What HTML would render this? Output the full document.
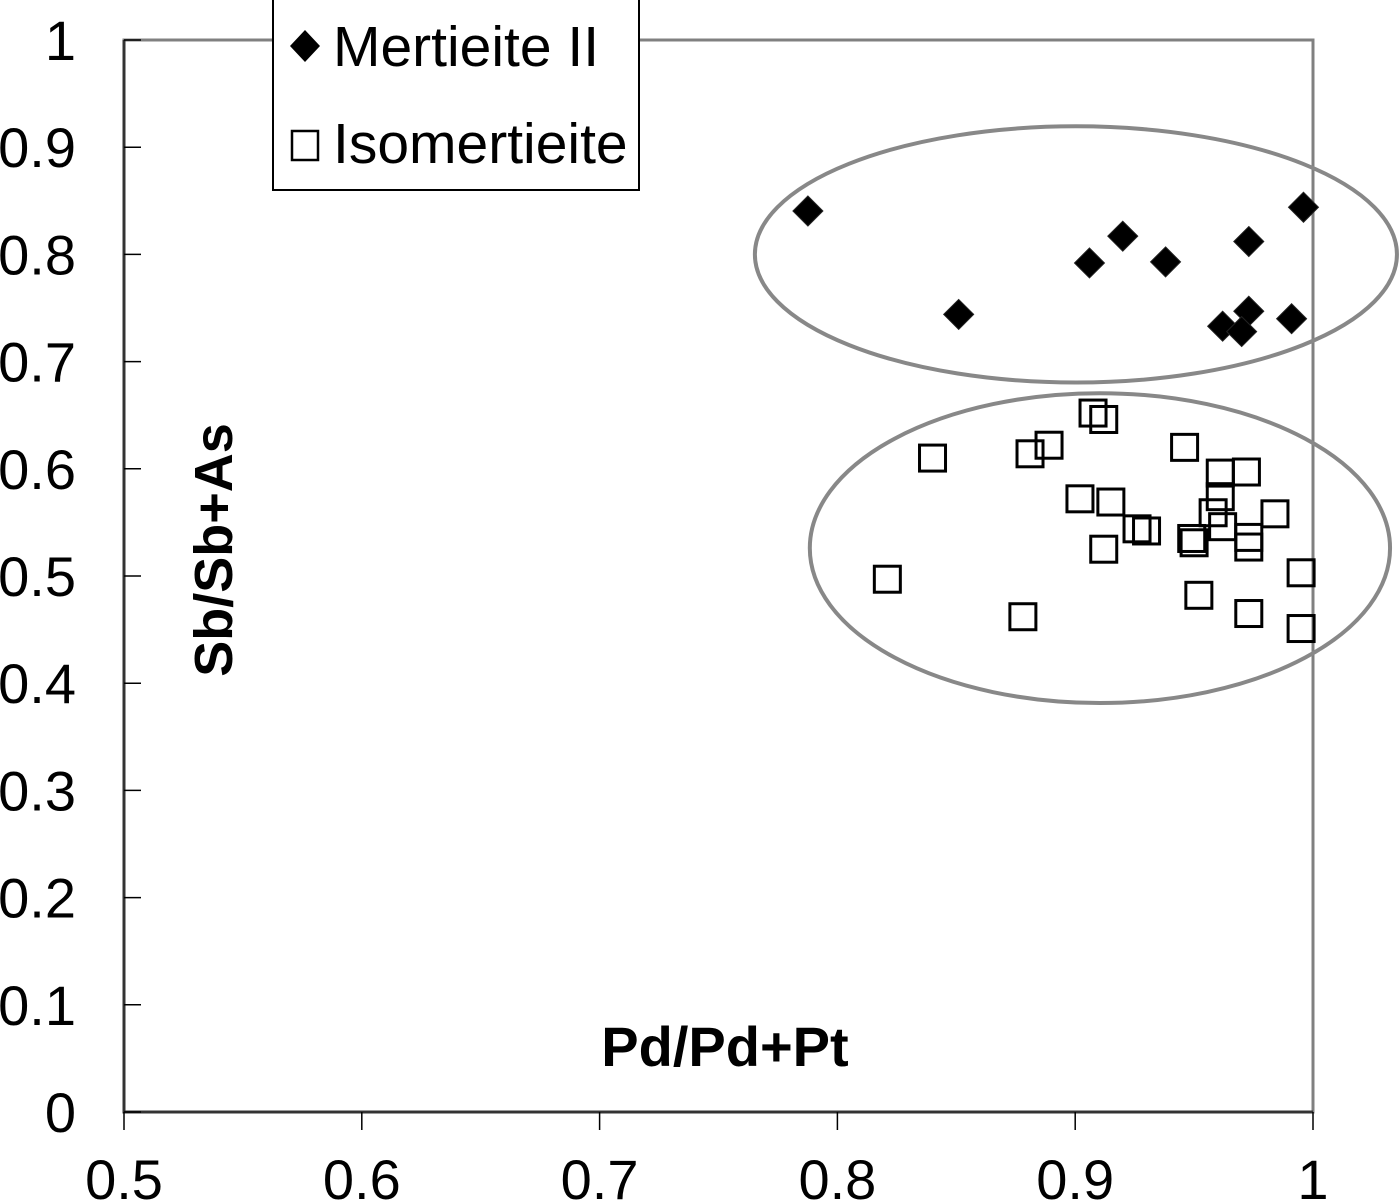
<!DOCTYPE html>
<html><head><meta charset="utf-8"><style>
html,body{margin:0;padding:0;background:#fff;width:1400px;height:1200px;overflow:hidden}
svg text{font-family:"Liberation Sans",Arial,sans-serif;fill:#000}
</style></head><body>
<svg id="chart" width="1400" height="1200" viewBox="0 0 1400 1200" xmlns="http://www.w3.org/2000/svg">
<g id="frame"></g>
<g id="ticks"></g>
<g id="ell"></g>
<g id="pts"></g>
<text x="0" y="0" transform="translate(232,550) rotate(-90)" text-anchor="middle" font-size="54" font-weight="bold">Sb/Sb+As</text>
<text x="725" y="1066" text-anchor="middle" font-size="56" font-weight="bold">Pd/Pd+Pt</text>
<g>
<rect x="273" y="-2" width="366" height="192" fill="#fff" stroke="#000" stroke-width="2"/>
<g>
<polygon points="305,30 320,46 305,62 290,46" fill="#000"/>
<text x="333" y="66" font-size="57">Mertieite II</text>
</g>
<g>
<rect x="292" y="131" width="26" height="29" fill="#fff" stroke="#000" stroke-width="2.5"/>
<text x="333" y="163" font-size="57">Isomertieite</text>
</g>
</g>
</svg>
<script>
const xTicks=[0.5,0.6,0.7,0.8,0.9,1];
const xTickLabels=["0.5","0.6","0.7","0.8","0.9","1"];
const yTicks=[0,0.1,0.2,0.3,0.4,0.5,0.6,0.7,0.8,0.9,1];
const yTickLabels=["0","0.1","0.2","0.3","0.4","0.5","0.6","0.7","0.8","0.9","1"];
const mertX=[0.7876,0.851,0.906,0.920,0.938,0.973,0.996,0.962,0.973,0.970,0.991];
const mertY=[0.8405,0.744,0.792,0.817,0.793,0.812,0.844,0.733,0.747,0.728,0.740];
const isoX=[0.9075,0.912,0.840,0.881,0.889,0.946,0.961,0.972,0.961,0.958,0.962,0.984,0.902,0.915,0.926,0.930,0.949,0.950,0.973,0.973,0.912,0.821,0.995,0.878,0.952,0.973,0.995];
const isoY=[0.652,0.646,0.610,0.614,0.622,0.620,0.596,0.597,0.574,0.559,0.546,0.558,0.572,0.569,0.544,0.542,0.535,0.531,0.536,0.527,0.525,0.497,0.503,0.462,0.482,0.465,0.451];
const ellCx=[0.9003,0.9104];
const ellCy=[0.800,0.526];
const ellRx=[0.135,0.122];
const ellRy=[0.1195,0.1445];

const X0=124,X1=1313,Y0=1112,Y1=40;
const sx=v=>X0+(v-0.5)/0.5*(X1-X0);
const sy=v=>Y0-v*(Y0-Y1);
const NS="http://www.w3.org/2000/svg";
function mk(tag,parent,attrs){const e=document.createElementNS(NS,tag);for(const k in attrs)e.setAttribute(k,attrs[k]);parent.appendChild(e);return e;}
const frame=document.getElementById('frame');
const fr=mk('rect',frame,{x:X0,y:Y1,width:X1-X0,height:Y0-Y1,fill:'none',stroke:'#808080','stroke-width':3});


const ax=mk('path',frame,{d:`M${X0},${Y1}V${Y0}H${X1}`,fill:'none',stroke:'#333','stroke-width':3});


const tk=document.getElementById('ticks');
yTicks.forEach((v,i)=>{
  const l=mk('line',tk,{x1:X0,x2:X0+17,y1:sy(v),y2:sy(v),stroke:'#000','stroke-width':1.5});
  
  
  const t=mk('text',tk,{x:76,y:sy(v)+20,'text-anchor':'end','font-size':56});
  t.textContent=yTickLabels[i];
  
  
});
xTicks.forEach((v,i)=>{
  const l=mk('line',tk,{x1:sx(v),x2:sx(v),y1:Y0,y2:Y0+18,stroke:'#000','stroke-width':1.5});
  
  
  const t=mk('text',tk,{x:sx(v),y:1199,'text-anchor':'middle','font-size':56});
  t.textContent=xTickLabels[i];
  
  
});
const eg=document.getElementById('ell');
ellCx.forEach((c,i)=>{
  const e=mk('ellipse',eg,{cx:sx(c),cy:sy(ellCy[i]),rx:ellRx[i]/0.5*(X1-X0),ry:ellRy[i]*(Y0-Y1),fill:'none',stroke:'#888','stroke-width':4});
  
  
});
const pg=document.getElementById('pts');
isoX.forEach((x,i)=>{
  const cx=sx(x),cy=sy(isoY[i]);
  const r=mk('rect',pg,{x:cx-13,y:cy-13,width:26,height:26,fill:'none',stroke:'#000','stroke-width':3});
  
  
});
mertX.forEach((x,i)=>{
  const cx=sx(x),cy=sy(mertY[i]);
  const p=mk('polygon',pg,{points:`${cx},${cy-15} ${cx+15},${cy} ${cx},${cy+15} ${cx-15},${cy}`,fill:'#000',stroke:'#222','stroke-width':1});
  
  
});
</script>
</body></html>
